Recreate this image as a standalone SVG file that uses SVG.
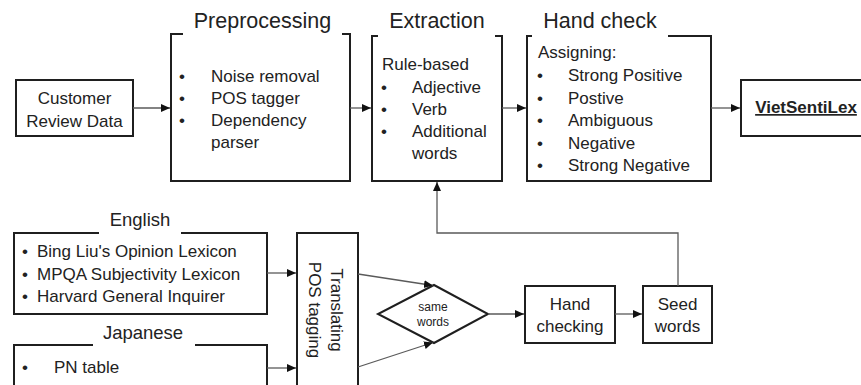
<svg xmlns="http://www.w3.org/2000/svg" width="861" height="385" viewBox="0 0 861 385">
<style>
.box{fill:none;stroke:#1f1f1f;stroke-width:2}
.t{font-family:"Liberation Sans",Arial,sans-serif;fill:#222;font-size:17px}
.c{text-anchor:middle}
.title{font-size:21.5px}
.sub{font-size:18.5px}
.small{font-size:12px}
.con{fill:none;stroke:#5a5a5a;stroke-width:1.3}
</style>
<defs>
<marker id="ah" markerUnits="userSpaceOnUse" markerWidth="10" markerHeight="10" refX="9" refY="4" orient="auto">
<path d="M0,0 L9,4 L0,8 Z" fill="#111"/>
</marker>
</defs>
<rect width="861" height="385" fill="#fff"/>

<g id="customer">
<rect class="box" x="16" y="80" width="117" height="56"/>
<text class="t c" x="74.5" y="104">Customer</text>
<text class="t c" x="74.5" y="127">Review Data</text>
</g>

<g id="preprocessing">
<path class="box" d="M183 34 H171 V181 H350 V34 H342"/>
<text class="t c title" x="262.5" y="28">Preprocessing</text>
<text class="t" x="179" y="82">•</text><text class="t" x="211" y="82">Noise removal</text>
<text class="t" x="179" y="104">•</text><text class="t" x="211" y="104">POS tagger</text>
<text class="t" x="179" y="126">•</text><text class="t" x="211" y="126">Dependency</text>
<text class="t" x="211" y="148">parser</text>
</g>

<g id="extraction">
<path class="box" d="M378 36 H372 V181 H502 V36 H495"/>
<text class="t c title" x="437" y="28">Extraction</text>
<text class="t" x="382" y="70">Rule-based</text>
<text class="t" x="381" y="93">•</text><text class="t" x="412" y="93">Adjective</text>
<text class="t" x="381" y="115">•</text><text class="t" x="412" y="115">Verb</text>
<text class="t" x="381" y="137">•</text><text class="t" x="412" y="137">Additional</text>
<text class="t" x="412" y="159">words</text>
</g>

<g id="handcheck">
<path class="box" d="M532 36 H527 V181 H711 V36 H668"/>
<text class="t c title" x="600" y="28">Hand check</text>
<text class="t" x="538" y="58">Assigning:</text>
<text class="t" x="537" y="81">•</text><text class="t" x="568" y="81">Strong Positive</text>
<text class="t" x="537" y="103.5">•</text><text class="t" x="568" y="103.5">Postive</text>
<text class="t" x="537" y="126">•</text><text class="t" x="568" y="126">Ambiguous</text>
<text class="t" x="537" y="148.5">•</text><text class="t" x="568" y="148.5">Negative</text>
<text class="t" x="537" y="171">•</text><text class="t" x="568" y="171">Strong Negative</text>
</g>

<g id="vietsentilex">
<path class="box" d="M866 80 H741 V136 H866"/>
<text class="t c" x="806" y="113" font-weight="bold" font-size="17.5" text-decoration="underline">VietSentiLex</text>
</g>

<g id="english">
<path class="box" d="M99 233 H14 V314 H267 V233 H181"/>
<text class="t c sub" x="140" y="226">English</text>
<text class="t" x="22" y="257">•</text><text class="t" x="37" y="257">Bing Liu's Opinion Lexicon</text>
<text class="t" x="22" y="280">•</text><text class="t" x="37" y="280">MPQA Subjectivity Lexicon</text>
<text class="t" x="22" y="302">•</text><text class="t" x="37" y="302">Harvard General Inquirer</text>
</g>

<g id="japanese">
<path class="box" d="M93 345 H14 V395 M267 395 V345 H195"/>
<text class="t c sub" x="143" y="339">Japanese</text>
<text class="t" x="22" y="373">•</text><text class="t" x="54" y="373">PN table</text>
</g>

<g id="translating">
<path class="box" d="M297 395 V233 H358 V395"/>
<g transform="translate(327.5,310) rotate(90)">
<text class="t c" x="0" y="-3.5">Translating</text>
<text class="t c" x="0" y="18.5">POS tagging</text>
</g>
</g>

<g id="samewords">
<polygon class="box" points="434,285 488,314 434,343 378,314"/>
<text class="t c small" x="433" y="310.5">same</text>
<text class="t c small" x="433" y="326">words</text>
</g>

<g id="handchecking">
<rect class="box" x="525" y="286" width="90" height="57"/>
<text class="t c" x="570" y="310">Hand</text>
<text class="t c" x="570" y="332">checking</text>
</g>

<g id="seedwords">
<rect class="box" x="643" y="286" width="69" height="57"/>
<text class="t c" x="677.5" y="310">Seed</text>
<text class="t c" x="677.5" y="332">words</text>
</g>

<g id="connectors">
<path class="con" d="M133 108 H170" marker-end="url(#ah)"/>
<path class="con" d="M350 108 H371" marker-end="url(#ah)"/>
<path class="con" d="M502 108 H526" marker-end="url(#ah)"/>
<path class="con" d="M711 108 H740" marker-end="url(#ah)"/>
<path class="con" d="M267 273 H296" marker-end="url(#ah)"/>
<path class="con" d="M267 368 H296" marker-end="url(#ah)"/>
<path class="con" d="M358 274 L433 285.5" marker-end="url(#ah)"/>
<path class="con" d="M358 367 L433 342.5" marker-end="url(#ah)"/>
<path class="con" d="M488 314 H524" marker-end="url(#ah)"/>
<path class="con" d="M615 314 H642" marker-end="url(#ah)"/>
<path class="con" d="M678 286 V233 H437 V182" marker-end="url(#ah)" stroke="#777"/>
</g>
</svg>
